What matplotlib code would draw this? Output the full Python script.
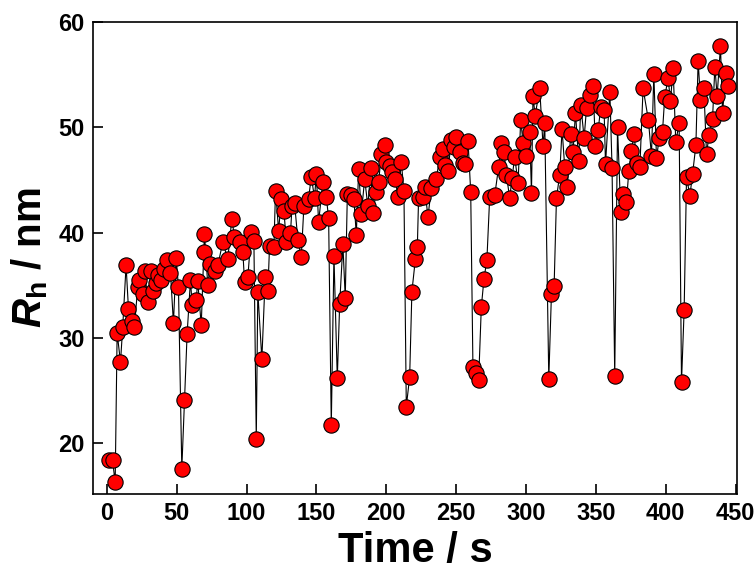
import numpy as np
import matplotlib
matplotlib.use("Agg")
import matplotlib.pyplot as plt

plt.rcParams['font.family'] = ['Liberation Sans', 'DejaVu Sans']
plt.rcParams['font.weight'] = 'bold'
plt.rcParams['mathtext.fontset'] = 'custom'
plt.rcParams['mathtext.it'] = 'Liberation Sans:italic:bold'
plt.rcParams['mathtext.rm'] = 'Liberation Sans:bold'
plt.rcParams['mathtext.bf'] = 'Liberation Sans:bold'

# time (s) and hydrodynamic radius (nm)
time_s = [1.8, 4.0, 5.9, 7.3, 9.7, 11.3, 13.7, 15.4, 17.8, 19.7, 22.0, 23.3, 25.6, 26.9,
          29.2, 31.7, 32.8, 35.2, 36.4, 38.8, 41.2, 43.1, 45.5, 47.6, 49.6, 51.2,
          53.6, 55.5, 57.4, 59.8, 61.0, 63.9, 65.0, 67.5, 69.3, 69.8, 72.2, 74.0,
          77.0, 79.4, 82.9, 86.5, 89.4, 91.3, 94.9, 97.3, 98.5, 100.9, 103.3, 105.2,
          106.9, 108.0, 110.9, 113.3, 115.2, 116.4, 119.5, 120.7, 122.9, 124.8, 126.7,
          128.4, 131.4, 132.5, 134.3, 136.7, 139.1, 141.0, 144.3, 146.3, 148.6, 149.9,
          151.5, 154.6, 157.0, 158.7, 160.6, 162.5, 164.9, 166.6, 168.9, 170.6, 172.1,
          174.4, 176.8, 178.5, 180.2, 182.1, 184.5, 186.8, 188.8, 190.4, 192.8, 194.5,
          196.4, 198.8, 200.0, 202.4, 204.0, 206.4, 208.3, 210.7, 212.6, 214.3, 216.7,
          218.3, 220.8, 222.2, 223.1, 226.2, 227.4, 229.8, 232.2, 235.8, 238.2, 240.5,
          242.3, 244.1, 246.6, 248.4, 250.1, 252.5, 254.9, 256.6, 258.5, 260.4, 262.0,
          264.5, 266.1, 268.0, 269.9, 272.0, 274.0, 277.6, 280.4, 282.3, 284.2, 286.0,
          288.3, 290.0, 291.9, 294.3, 296.2, 297.9, 300.3, 302.6, 303.9, 305.0, 306.5,
          309.8, 312.2, 313.4, 316.3, 318.2, 320.1, 321.8, 324.1, 325.8, 327.7, 329.6,
          332.0, 333.7, 335.4, 337.7, 339.2, 341.6, 343.3, 345.6, 348.0, 349.7, 351.6,
          353.5, 355.9, 356.9, 360.0, 361.6, 363.5, 365.5, 367.8, 369.5, 371.9, 373.6,
          375.5, 377.4, 379.1, 381.5, 383.8, 387.6, 389.8, 391.5, 393.4, 395.3, 397.7,
          399.3, 401.7, 403.4, 405.3, 407.2, 409.6, 411.3, 413.2, 414.9, 417.3, 419.2,
          421.6, 423.2, 424.9, 427.3, 429.2, 431.1, 433.5, 435.2, 436.8, 439.2, 440.7,
          443.0, 444.7]

rh_nm = [18.4, 18.4, 16.3, 30.5, 27.7, 31.05, 36.9, 32.8, 31.6, 31.05, 34.8, 35.5, 34.2, 36.4,
         33.4, 36.4, 34.5, 35.2, 36.0, 35.5, 36.6, 37.4, 36.2, 31.4, 37.6, 34.8,
         17.6, 24.1, 30.4, 35.5, 33.1, 33.6, 35.4, 31.2, 38.2, 39.9, 35.0, 37.0,
         36.4, 36.9, 39.1, 37.5, 41.3, 39.6, 39.1, 38.2, 35.3, 35.8, 40.1, 39.2,
         20.4, 34.4, 28.0, 35.8, 34.5, 38.7, 38.6, 44.0, 40.2, 43.2, 42.1,
         39.1, 40.0, 42.5, 42.8, 39.3, 37.7, 42.5, 43.2, 45.3, 43.3, 45.6,
         41.0, 44.8, 43.4, 41.4, 21.7, 37.8, 26.2, 33.2, 38.9, 33.8, 43.7,
         43.6, 43.2, 39.8, 46.0, 41.8, 45.1, 42.5, 46.1, 41.9, 43.9, 44.8,
         47.5, 48.3, 46.7, 46.3, 45.8, 45.1, 43.4, 46.7, 44.0, 23.5, 26.3,
         34.4, 37.5, 38.65, 43.3, 43.4, 44.35, 41.5, 44.2, 45.1, 47.2, 47.9,
         46.4, 45.9, 48.8, 48.1, 49.1, 47.7, 46.6, 46.5, 48.7, 43.9, 27.25,
         26.7, 26.05, 32.95, 35.6, 37.45, 43.4, 43.55, 46.25, 48.5, 47.7, 45.5,
         43.25, 45.2, 47.2, 44.7, 50.7, 48.5, 47.3, 49.6, 43.8, 53.0, 51.1,
         53.7, 48.2, 50.4, 26.15, 34.2, 34.9, 43.3, 45.5, 49.8, 46.25, 44.3,
         49.4, 47.7, 51.4, 46.8, 52.1, 49.0, 51.8, 53.1, 53.9, 48.2, 49.7,
         51.9, 51.6, 46.5, 53.4, 46.1, 26.4, 50.05, 42.0, 43.7, 42.9, 45.9,
         47.8, 49.4, 46.6, 46.25, 53.7, 50.7, 47.3, 55.1, 47.05, 48.95, 49.6,
         52.9, 54.65, 52.5, 55.6, 48.6, 50.4, 25.8, 32.7, 45.3, 43.5, 45.55,
         48.3, 56.3, 52.6, 53.7, 47.5, 49.3, 50.75, 55.75, 52.95, 57.7, 51.4,
         55.2, 53.9]

x_ticks = [0, 50, 100, 150, 200, 250, 300, 350, 400, 450]
y_ticks = [20, 30, 40, 50, 60]

fig = plt.figure(figsize=(7.54, 5.71), dpi=100)
ax = fig.add_axes([0.1233, 0.1349, 0.8541, 0.8266])

ax.plot(time_s, rh_nm, '-', color='black', linewidth=0.8, zorder=1)
ax.plot(time_s, rh_nm, 'o', markersize=11, markerfacecolor='#ff0000',
        markeredgecolor='black', markeredgewidth=0.8, zorder=2)

ax.set_xlim(-10, 451)
ax.set_ylim(15.2, 60)
ax.set_xticks(x_ticks)
ax.set_yticks(y_ticks)
ax.tick_params(direction='in', length=7, width=1.2, labelsize=17, pad=6)
for lab in ax.get_xticklabels() + ax.get_yticklabels():
    lab.set_fontweight('bold')
for sp in ax.spines.values():
    sp.set_linewidth(1.2)

ax.set_xlabel('Time / s', fontsize=30, fontweight='bold', labelpad=4)
ax.set_ylabel(r'$\mathit{R}_{\mathrm{h}}$ / nm', fontsize=29, fontweight='bold', labelpad=6)

fig.savefig('out.png', dpi=100)
